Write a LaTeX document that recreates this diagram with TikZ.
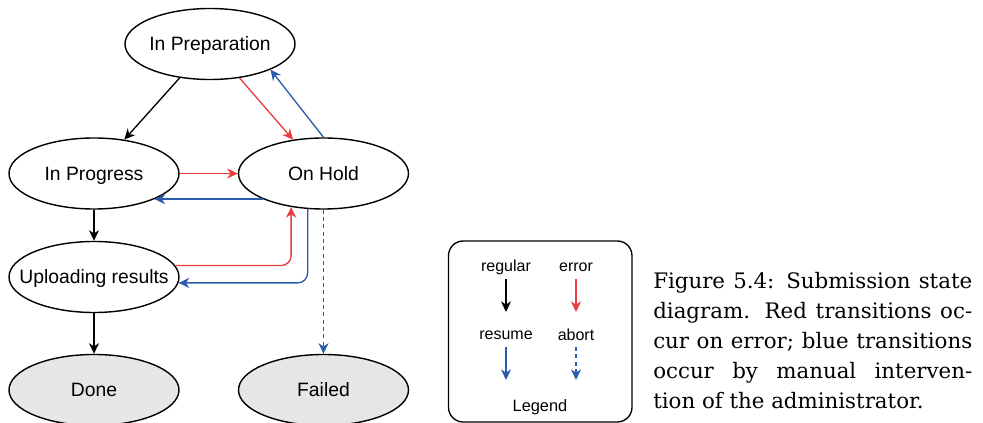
\documentclass[tikz,border=0pt]{standalone}
\usepackage{fontspec}
\setsansfont{Liberation Sans}
\newfontfamily\capfont{DejaVu Serif}
\usetikzlibrary{shapes.geometric,arrows.meta}
\definecolor{errred}{HTML}{EA3E3E}
\definecolor{resblue}{HTML}{2A5CAA}
\definecolor{finalgray}{HTML}{E6E6E6}
\newcommand{\mbx}[1]{\makebox[0pt][c]{#1}}
\tikzset{
  state/.style={ellipse, draw, line width=1.05pt, minimum width=127.5pt, minimum height=53.25pt,
    inner sep=0pt, text height=10.5pt, text depth=0pt, font=\sffamily\fontsize{14.5}{17}\selectfont},
  finalstate/.style={state, fill=finalgray},
  arr/.style={line width=1pt, -{Stealth[length=8pt,width=7.5pt,inset=2.5pt]}},
  errarr/.style={arr, draw=errred, -{Stealth[length=8pt,width=7.5pt,inset=2.5pt,fill=errred]}},
  resarr/.style={arr, draw=resblue, -{Stealth[length=8pt,width=7.5pt,inset=2.5pt,fill=resblue]}},
  abortarr/.style={resarr, dash pattern=on 3pt off 2.5pt},
  leglabel/.style={font=\sffamily\fontsize{12}{14}\selectfont, inner sep=0pt},
  capline/.style={anchor=base west, inner sep=0pt, font=\capfont\fontsize{16}{22.5}\selectfont},
}
\begin{document}
\begin{tikzpicture}[x=0.75pt, y=-0.75pt]
\useasboundingbox (0,0) rectangle (983,423);

% states
\node[state] (prep) at (210,44) {\mbx{In Preparation}};
\node[state] (prog) at (94,173.5) {\mbx{In Progress}};
\node[state] (hold) at (323.5,173.5) {\mbx{On Hold}};
\node[state] (upl) at (94,277) {\mbx{Uploading results}};
\node[finalstate] (done) at (94,390) {\mbx{Done}};
\node[finalstate] (failed) at (323.5,390) {\mbx{Failed}};

% transitions
\draw[arr] (prep) -- (prog);
\draw[errarr] (prep.-49.5) -- (hold.132.3);
\draw[resarr] (hold.north) -- (prep.-23.4);
\draw[errarr] (prog) -- (hold);
\draw[resarr] (hold.203.3) -- (prog.-23.3);
\draw[arr] (prog) -- (upl);
\draw[errarr, rounded corners=7.5pt] (upl.8) -| (hold.226.3);
\draw[resarr, rounded corners=7.5pt] (hold.246) |- (upl.-4.1);
\draw[abortarr] (hold) -- (failed);
\draw[arr] (upl) -- (done);

% legend
\node[draw, line width=1pt, rounded corners=11pt, minimum width=137.6pt, minimum height=135.75pt,
  inner sep=0pt] (legend) at (540.25,331.5) {};
\node[leglabel] (lreg) at (506,267) {regular};
\node[leglabel] (lerr) at (576,267) {error};
\node[leglabel] (lres) at (506,335) {resume};
\node[leglabel] (labt) at (576,335) {abort};
\node[leglabel, font=\sffamily\fontsize{12.3}{14}\selectfont] (ltitle) at (540,407) {Legend};
\coordinate (a1s) at (506,279); \coordinate (a1e) at (506,312);
\coordinate (a2s) at (576,279); \coordinate (a2e) at (576,312);
\coordinate (a3s) at (506,347); \coordinate (a3e) at (506,380);
\coordinate (a4s) at (576,347); \coordinate (a4e) at (576,380);
\draw[arr] (a1s) -- (a1e);
\draw[errarr] (a2s) -- (a2e);
\draw[resarr] (a3s) -- (a3e);
\draw[abortarr] (a4s) -- (a4e);

% caption
\node[capline] (c1) at (653,289) {\makebox[239.25pt][s]{Figure 5.4: Submission state}};
\node[capline] (c2) at (653,319) {\makebox[239.25pt][s]{diagram. Red transitions oc-}};
\node[capline] (c3) at (653,349) {\makebox[239.25pt][s]{cur on error; blue transitions}};
\node[capline] (c4) at (653,379) {\makebox[239.25pt][s]{occur by manual interven-}};
\node[capline] (c5) at (653,409) {tion of the administrator.};
\end{tikzpicture}
\end{document}
